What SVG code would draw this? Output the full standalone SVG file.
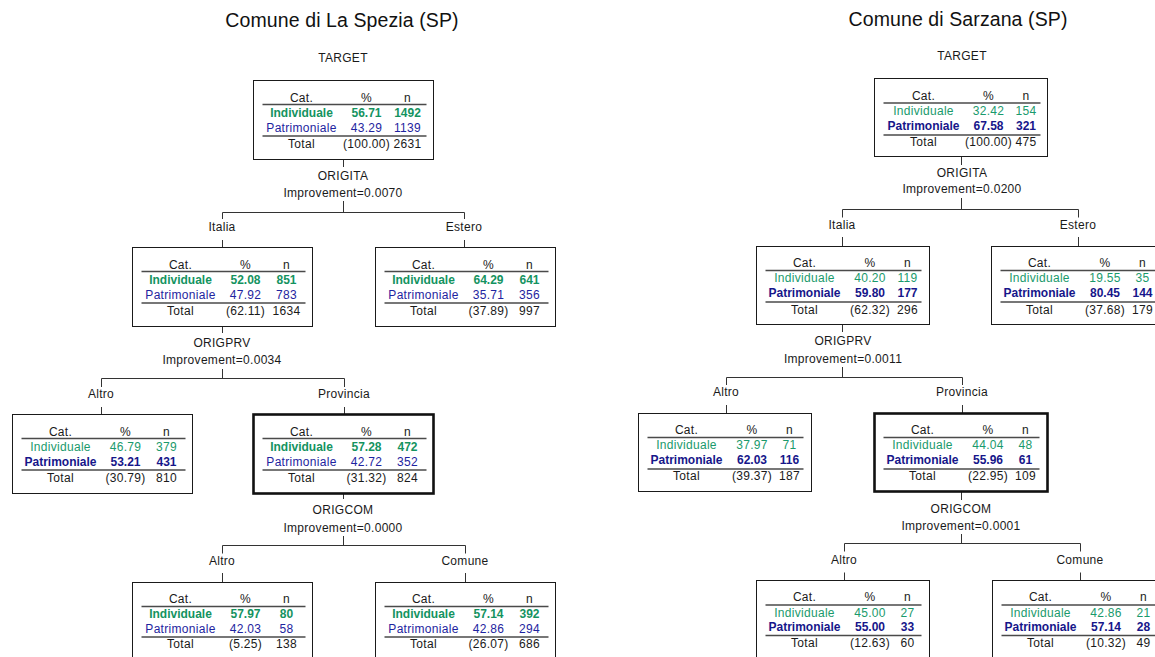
<svg xmlns="http://www.w3.org/2000/svg" width="1155" height="657" viewBox="0 0 1155 657">
<style>
text{font-family:"Liberation Sans",Arial,sans-serif;font-size:12px;letter-spacing:0.3px;text-anchor:middle;fill:#1a1a1a}
.title{font-size:19.5px;letter-spacing:0.1px;fill:#111}
.box{fill:#fff;stroke:#1a1a1a;stroke-width:1}
.thick{fill:#fff;stroke:#111;stroke-width:2.6}
.hl{stroke:#4a4a4a;stroke-width:1.6}
.g{fill:#1a9a6c}
.gb{fill:#14935f;font-weight:bold;letter-spacing:0}
.b{fill:#1e24a0}
.bb{fill:#16168a;font-weight:bold;letter-spacing:0}
.conn line{stroke:#333;stroke-width:1}
</style>
<rect width="1155" height="657" fill="#fff"/>

<!-- Titles and labels -->
<text class="title" x="342" y="27">Comune di La Spezia (SP)</text>
<text class="title" x="958" y="26">Comune di Sarzana (SP)</text>
<text x="343" y="61.5">TARGET</text>
<text x="962" y="60">TARGET</text>

<!-- Connectors -->
<g id="connectors" class="conn">
  <!-- left tree -->
  <line x1="343.5" y1="159" x2="343.5" y2="167"/>
  <line x1="343.5" y1="201" x2="343.5" y2="212.5"/>
  <line x1="222.5" y1="212.5" x2="464.5" y2="212.5"/>
  <line x1="222.5" y1="212.5" x2="222.5" y2="219"/>
  <line x1="464.5" y1="212.5" x2="464.5" y2="219"/>
  <line x1="222.5" y1="240" x2="222.5" y2="247"/>
  <line x1="464.5" y1="240" x2="464.5" y2="247"/>

  <line x1="222.5" y1="326" x2="222.5" y2="333"/>
  <line x1="222.5" y1="369" x2="222.5" y2="378.5"/>
  <line x1="101.5" y1="378.5" x2="344.5" y2="378.5"/>
  <line x1="101.5" y1="378.5" x2="101.5" y2="387"/>
  <line x1="344.5" y1="378.5" x2="344.5" y2="387"/>
  <line x1="101.5" y1="407" x2="101.5" y2="414"/>
  <line x1="344.5" y1="407" x2="344.5" y2="414"/>

  <line x1="343.5" y1="494" x2="343.5" y2="499"/>
  <line x1="343.5" y1="536" x2="343.5" y2="545.5"/>
  <line x1="222.5" y1="545.5" x2="465.5" y2="545.5"/>
  <line x1="222.5" y1="545.5" x2="222.5" y2="553.5"/>
  <line x1="465.5" y1="545.5" x2="465.5" y2="553.5"/>
  <line x1="222.5" y1="573" x2="222.5" y2="582"/>
  <line x1="465.5" y1="573" x2="465.5" y2="582"/>

  <!-- right tree -->
  <line x1="961.5" y1="156" x2="961.5" y2="165"/>
  <line x1="961.5" y1="198" x2="961.5" y2="209.5"/>
  <line x1="842.5" y1="209.5" x2="1078.5" y2="209.5"/>
  <line x1="842.5" y1="209.5" x2="842.5" y2="217.5"/>
  <line x1="1078.5" y1="209.5" x2="1078.5" y2="217.5"/>
  <line x1="842.5" y1="237" x2="842.5" y2="246"/>
  <line x1="1078.5" y1="237" x2="1078.5" y2="246"/>

  <line x1="842.5" y1="324" x2="842.5" y2="332"/>
  <line x1="842.5" y1="367" x2="842.5" y2="377.5"/>
  <line x1="726.5" y1="377.5" x2="962.5" y2="377.5"/>
  <line x1="726.5" y1="377.5" x2="726.5" y2="385"/>
  <line x1="962.5" y1="377.5" x2="962.5" y2="385"/>
  <line x1="726.5" y1="405" x2="726.5" y2="413"/>
  <line x1="962.5" y1="405" x2="962.5" y2="413"/>

  <line x1="961.5" y1="492" x2="961.5" y2="500"/>
  <line x1="961.5" y1="534" x2="961.5" y2="543.5"/>
  <line x1="844.5" y1="543.5" x2="1080.5" y2="543.5"/>
  <line x1="844.5" y1="543.5" x2="844.5" y2="551.5"/>
  <line x1="1080.5" y1="543.5" x2="1080.5" y2="551.5"/>
  <line x1="844.5" y1="572.5" x2="844.5" y2="581"/>
  <line x1="1080.5" y1="572.5" x2="1080.5" y2="581"/>
</g>

<!-- Split labels -->
<g id="split-labels">
  <text x="343" y="180">ORIGITA</text>
  <text x="343" y="196.5">Improvement=0.0070</text>
  <text x="222" y="231">Italia</text>
  <text x="464" y="231">Estero</text>
  <text x="222" y="346.5">ORIGPRV</text>
  <text x="222" y="364">Improvement=0.0034</text>
  <text x="101" y="398">Altro</text>
  <text x="344" y="398">Provincia</text>
  <text x="343" y="514">ORIGCOM</text>
  <text x="343" y="531.5">Improvement=0.0000</text>
  <text x="222" y="565">Altro</text>
  <text x="465" y="565">Comune</text>

  <text x="962" y="176.5">ORIGITA</text>
  <text x="962" y="193">Improvement=0.0200</text>
  <text x="842" y="229">Italia</text>
  <text x="1078" y="229">Estero</text>
  <text x="843" y="345">ORIGPRV</text>
  <text x="843" y="362.5">Improvement=0.0011</text>
  <text x="726" y="396">Altro</text>
  <text x="962" y="396">Provincia</text>
  <text x="961" y="512.5">ORIGCOM</text>
  <text x="961" y="530">Improvement=0.0001</text>
  <text x="844" y="564">Altro</text>
  <text x="1080" y="564">Comune</text>
</g>

<!-- Left tree nodes (180 x 79) -->
<g id="L0" transform="translate(253.5,80.5)">
  <rect class="box" width="180" height="79"/>
  <text x="48" y="21">Cat.</text><text x="113" y="21">%</text><text x="154" y="21">n</text>
  <line class="hl" x1="9" y1="24" x2="173" y2="24"/>
  <text class="gb" x="48" y="36.5">Individuale</text><text class="gb" x="113" y="36.5">56.71</text><text class="gb" x="154" y="36.5">1492</text>
  <text class="b" x="48" y="51">Patrimoniale</text><text class="b" x="113" y="51">43.29</text><text class="b" x="154" y="51">1139</text>
  <line class="hl" x1="9" y1="55.5" x2="173" y2="55.5"/>
  <text x="48" y="67">Total</text><text x="113" y="67">(100.00)</text><text x="154" y="67">2631</text>
</g>
<g id="L1a" transform="translate(132.5,247.5)">
  <rect class="box" width="180" height="79"/>
  <text x="48" y="21">Cat.</text><text x="113" y="21">%</text><text x="154" y="21">n</text>
  <line class="hl" x1="9" y1="24" x2="173" y2="24"/>
  <text class="gb" x="48" y="36.5">Individuale</text><text class="gb" x="113" y="36.5">52.08</text><text class="gb" x="154" y="36.5">851</text>
  <text class="b" x="48" y="51">Patrimoniale</text><text class="b" x="113" y="51">47.92</text><text class="b" x="154" y="51">783</text>
  <line class="hl" x1="9" y1="55.5" x2="173" y2="55.5"/>
  <text x="48" y="67">Total</text><text x="113" y="67">(62.11)</text><text x="154" y="67">1634</text>
</g>
<g id="L1b" transform="translate(375.5,247.5)">
  <rect class="box" width="180" height="79"/>
  <text x="48" y="21">Cat.</text><text x="113" y="21">%</text><text x="154" y="21">n</text>
  <line class="hl" x1="9" y1="24" x2="173" y2="24"/>
  <text class="gb" x="48" y="36.5">Individuale</text><text class="gb" x="113" y="36.5">64.29</text><text class="gb" x="154" y="36.5">641</text>
  <text class="b" x="48" y="51">Patrimoniale</text><text class="b" x="113" y="51">35.71</text><text class="b" x="154" y="51">356</text>
  <line class="hl" x1="9" y1="55.5" x2="173" y2="55.5"/>
  <text x="48" y="67">Total</text><text x="113" y="67">(37.89)</text><text x="154" y="67">997</text>
</g>
<g id="L2a" transform="translate(12.5,414.5)">
  <rect class="box" width="180" height="79"/>
  <text x="48" y="21">Cat.</text><text x="113" y="21">%</text><text x="154" y="21">n</text>
  <line class="hl" x1="9" y1="24" x2="173" y2="24"/>
  <text class="g" x="48" y="36.5">Individuale</text><text class="g" x="113" y="36.5">46.79</text><text class="g" x="154" y="36.5">379</text>
  <text class="bb" x="48" y="51">Patrimoniale</text><text class="bb" x="113" y="51">53.21</text><text class="bb" x="154" y="51">431</text>
  <line class="hl" x1="9" y1="55.5" x2="173" y2="55.5"/>
  <text x="48" y="67">Total</text><text x="113" y="67">(30.79)</text><text x="154" y="67">810</text>
</g>
<g id="L2b" transform="translate(253.5,414.5)">
  <rect class="thick" width="180" height="79"/>
  <text x="48" y="21">Cat.</text><text x="113" y="21">%</text><text x="154" y="21">n</text>
  <line class="hl" x1="9" y1="24" x2="173" y2="24"/>
  <text class="gb" x="48" y="36.5">Individuale</text><text class="gb" x="113" y="36.5">57.28</text><text class="gb" x="154" y="36.5">472</text>
  <text class="b" x="48" y="51">Patrimoniale</text><text class="b" x="113" y="51">42.72</text><text class="b" x="154" y="51">352</text>
  <line class="hl" x1="9" y1="55.5" x2="173" y2="55.5"/>
  <text x="48" y="67">Total</text><text x="113" y="67">(31.32)</text><text x="154" y="67">824</text>
</g>
<g id="L3a" transform="translate(132.5,582.5)">
  <rect class="box" width="180" height="79"/>
  <text x="48" y="20.5">Cat.</text><text x="113" y="20.5">%</text><text x="154" y="20.5">n</text>
  <line class="hl" x1="9" y1="24" x2="173" y2="24"/>
  <text class="gb" x="48" y="35.5">Individuale</text><text class="gb" x="113" y="35.5">57.97</text><text class="gb" x="154" y="35.5">80</text>
  <text class="b" x="48" y="50">Patrimoniale</text><text class="b" x="113" y="50">42.03</text><text class="b" x="154" y="50">58</text>
  <line class="hl" x1="9" y1="54.5" x2="173" y2="54.5"/>
  <text x="48" y="65.5">Total</text><text x="113" y="65.5">(5.25)</text><text x="154" y="65.5">138</text>
</g>
<g id="L3b" transform="translate(375.5,582.5)">
  <rect class="box" width="180" height="79"/>
  <text x="48" y="20.5">Cat.</text><text x="113" y="20.5">%</text><text x="154" y="20.5">n</text>
  <line class="hl" x1="9" y1="24" x2="173" y2="24"/>
  <text class="gb" x="48" y="35.5">Individuale</text><text class="gb" x="113" y="35.5">57.14</text><text class="gb" x="154" y="35.5">392</text>
  <text class="b" x="48" y="50">Patrimoniale</text><text class="b" x="113" y="50">42.86</text><text class="b" x="154" y="50">294</text>
  <line class="hl" x1="9" y1="54.5" x2="173" y2="54.5"/>
  <text x="48" y="65.5">Total</text><text x="113" y="65.5">(26.07)</text><text x="154" y="65.5">686</text>
</g>

<!-- Right tree nodes (173 x 78) -->
<g id="R0" transform="translate(874.5,78.5)">
  <rect class="box" width="173" height="78"/>
  <text x="49" y="21">Cat.</text><text x="114" y="21">%</text><text x="151.5" y="21">n</text>
  <line class="hl" x1="9" y1="24.5" x2="166" y2="24.5"/>
  <text class="g" x="49" y="36.5">Individuale</text><text class="g" x="114" y="36.5">32.42</text><text class="g" x="151.5" y="36.5">154</text>
  <text class="bb" x="49" y="51.5">Patrimoniale</text><text class="bb" x="114" y="51.5">67.58</text><text class="bb" x="151.5" y="51.5">321</text>
  <line class="hl" x1="9" y1="56.5" x2="166" y2="56.5"/>
  <text x="49" y="67">Total</text><text x="114" y="67">(100.00)</text><text x="151.5" y="67">475</text>
</g>
<g id="R1a" transform="translate(756.5,246.5)">
  <rect class="box" width="173" height="78"/>
  <text x="48" y="20">Cat.</text><text x="113.5" y="20">%</text><text x="151" y="20">n</text>
  <line class="hl" x1="9" y1="24" x2="165" y2="24"/>
  <text class="g" x="48" y="35.5">Individuale</text><text class="g" x="113.5" y="35.5">40.20</text><text class="g" x="151" y="35.5">119</text>
  <text class="bb" x="48" y="50.5">Patrimoniale</text><text class="bb" x="113.5" y="50.5">59.80</text><text class="bb" x="151" y="50.5">177</text>
  <line class="hl" x1="9" y1="55.5" x2="165" y2="55.5"/>
  <text x="48" y="67">Total</text><text x="113.5" y="67">(62.32)</text><text x="151" y="67">296</text>
</g>
<g id="R1b" transform="translate(991.5,246.5)">
  <rect class="box" width="173" height="78"/>
  <text x="48" y="20">Cat.</text><text x="113.5" y="20">%</text><text x="151" y="20">n</text>
  <line class="hl" x1="9" y1="24" x2="165" y2="24"/>
  <text class="g" x="48" y="35.5">Individuale</text><text class="g" x="113.5" y="35.5">19.55</text><text class="g" x="151" y="35.5">35</text>
  <text class="bb" x="48" y="50.5">Patrimoniale</text><text class="bb" x="113.5" y="50.5">80.45</text><text class="bb" x="151" y="50.5">144</text>
  <line class="hl" x1="9" y1="55.5" x2="165" y2="55.5"/>
  <text x="48" y="67">Total</text><text x="113.5" y="67">(37.68)</text><text x="151" y="67">179</text>
</g>
<g id="R2a" transform="translate(638.5,413.5)">
  <rect class="box" width="173" height="78"/>
  <text x="48" y="20">Cat.</text><text x="113.5" y="20">%</text><text x="151" y="20">n</text>
  <line class="hl" x1="9" y1="24" x2="165" y2="24"/>
  <text class="g" x="48" y="35.5">Individuale</text><text class="g" x="113.5" y="35.5">37.97</text><text class="g" x="151" y="35.5">71</text>
  <text class="bb" x="48" y="50.5">Patrimoniale</text><text class="bb" x="113.5" y="50.5">62.03</text><text class="bb" x="151" y="50.5">116</text>
  <line class="hl" x1="9" y1="55.5" x2="165" y2="55.5"/>
  <text x="48" y="66.5">Total</text><text x="113.5" y="66.5">(39.37)</text><text x="151" y="66.5">187</text>
</g>
<g id="R2b" transform="translate(874.5,413.5)">
  <rect class="thick" width="173" height="78"/>
  <text x="48" y="20">Cat.</text><text x="113.5" y="20">%</text><text x="151" y="20">n</text>
  <line class="hl" x1="9" y1="24" x2="165" y2="24"/>
  <text class="g" x="48" y="35.5">Individuale</text><text class="g" x="113.5" y="35.5">44.04</text><text class="g" x="151" y="35.5">48</text>
  <text class="bb" x="48" y="50.5">Patrimoniale</text><text class="bb" x="113.5" y="50.5">55.96</text><text class="bb" x="151" y="50.5">61</text>
  <line class="hl" x1="9" y1="55.5" x2="165" y2="55.5"/>
  <text x="48" y="66.5">Total</text><text x="113.5" y="66.5">(22.95)</text><text x="151" y="66.5">109</text>
</g>
<g id="R3a" transform="translate(756.5,580.5)">
  <rect class="box" width="173" height="78"/>
  <text x="48" y="20.5">Cat.</text><text x="113.5" y="20.5">%</text><text x="151" y="20.5">n</text>
  <line class="hl" x1="9" y1="24.5" x2="165" y2="24.5"/>
  <text class="g" x="48" y="36">Individuale</text><text class="g" x="113.5" y="36">45.00</text><text class="g" x="151" y="36">27</text>
  <text class="bb" x="48" y="50.5">Patrimoniale</text><text class="bb" x="113.5" y="50.5">55.00</text><text class="bb" x="151" y="50.5">33</text>
  <line class="hl" x1="9" y1="55" x2="165" y2="55"/>
  <text x="48" y="66">Total</text><text x="113.5" y="66">(12.63)</text><text x="151" y="66">60</text>
</g>
<g id="R3b" transform="translate(992.5,580.5)">
  <rect class="box" width="173" height="78"/>
  <text x="48" y="20.5">Cat.</text><text x="113.5" y="20.5">%</text><text x="151" y="20.5">n</text>
  <line class="hl" x1="9" y1="24.5" x2="165" y2="24.5"/>
  <text class="g" x="48" y="36">Individuale</text><text class="g" x="113.5" y="36">42.86</text><text class="g" x="151" y="36">21</text>
  <text class="bb" x="48" y="50.5">Patrimoniale</text><text class="bb" x="113.5" y="50.5">57.14</text><text class="bb" x="151" y="50.5">28</text>
  <line class="hl" x1="9" y1="55" x2="165" y2="55"/>
  <text x="48" y="66">Total</text><text x="113.5" y="66">(10.32)</text><text x="151" y="66">49</text>
</g>
</svg>
